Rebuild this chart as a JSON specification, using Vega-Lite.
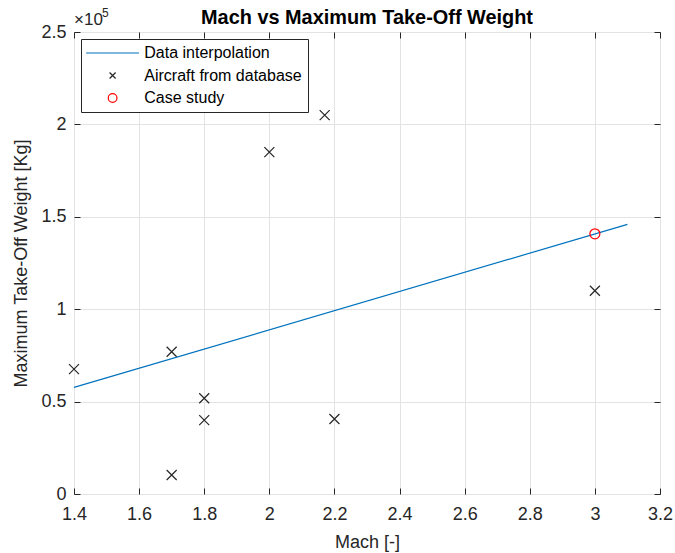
{
  "$schema": "https://vega.github.io/schema/vega-lite/v6.json",
  "width": 586,
  "height": 462,
  "autosize": {"type": "none"},
  "padding": {"left": 74, "top": 32, "right": 15, "bottom": 59},
  "background": "white",
  "title": {"text": "Mach vs Maximum Take-Off Weight", "fontSize": 19.9, "font": "Liberation Sans", "fontWeight": "bold", "color": "#000000", "offset": -21},
  "config": {
    "view": {"stroke": "#262626", "strokeWidth": 1},
    "font": "Liberation Sans",
    "axis": {
      "labelFont": "Liberation Sans", "labelFontSize": 18, "labelColor": "#262626", "labelFlush": false,
      "titleFont": "Liberation Sans", "titleFontSize": 18, "titleFontWeight": "normal", "titleColor": "#262626",
      "domainColor": "#262626", "tickColor": "#262626", "gridColor": "#e3e3e3", "gridWidth": 1
    },
    "legend": {
      "orient": "top-left", "offset": 7, "strokeColor": "#262626", "fillColor": "white", "padding": 6,
      "labelFont": "Liberation Sans", "labelFontSize": 16, "labelColor": "#000000", "rowPadding": 6.5, "labelLimit": 0,
      "symbolSize": 76, "symbolOffset": 17.6, "labelOffset": 23.7, "symbolStrokeWidth": 1.2
    }
  },
  "datasets": {
    "fit": [
      {"mach": 1.4, "mtow": 57700, "series": "Data interpolation"},
      {"mach": 3.1, "mtow": 145900, "series": "Data interpolation"}
    ],
    "pts": [
      {"mach": 1.4, "mtow": 67600, "series": "Aircraft from database"},
      {"mach": 1.7, "mtow": 77000, "series": "Aircraft from database"},
      {"mach": 1.7, "mtow": 10300, "series": "Aircraft from database"},
      {"mach": 1.8, "mtow": 51800, "series": "Aircraft from database"},
      {"mach": 1.8, "mtow": 40000, "series": "Aircraft from database"},
      {"mach": 2.0, "mtow": 185000, "series": "Aircraft from database"},
      {"mach": 2.17, "mtow": 205000, "series": "Aircraft from database"},
      {"mach": 2.2, "mtow": 40600, "series": "Aircraft from database"},
      {"mach": 3.0, "mtow": 110000, "series": "Aircraft from database"},
      {"mach": 3.0, "mtow": 140800, "series": "Case study"}
    ],
    "exp": [{"mach": 1.4, "mtow": 250000, "base": "×10", "power": "5"}]
  },
  "layer": [
    {
      "data": {"name": "fit"},
      "mark": {"type": "line", "strokeWidth": 1.2},
      "encoding": {
        "x": {"field": "mach", "type": "quantitative", "scale": {"domain": [1.4, 3.2], "nice": false, "zero": false},
              "axis": {"orient": "bottom", "values": [1.4,1.6,1.8,2,2.2,2.4,2.6,2.8,3,3.2], "format": "~g", "title": "Mach [-]", "tickSize": -6, "labelPadding": 17, "titlePadding": 10, "domain": false}},
        "y": {"field": "mtow", "type": "quantitative", "scale": {"domain": [0, 250000], "nice": false},
              "axis": {"orient": "left", "values": [0,50000,100000,150000,200000,250000], "labelExpr": "datum.value/100000", "title": "Maximum Take-Off Weight [Kg]", "tickSize": -6, "labelPadding": 14, "titlePadding": 10, "domain": false}},
        "color": {"field": "series", "type": "nominal",
                  "scale": {"domain": ["Data interpolation", "Aircraft from database", "Case study"], "range": ["#0072BD", "#262626", "#FF0000"]},
                  "legend": {"title": null, "orient": "top-left",
                             "encode": {"symbols": {"update": {"size": {"signal": "datum.label === 'Data interpolation' ? 2800 : datum.label === 'Case study' ? 76 : 36"}, "stroke": {"scale": "color", "field": "value"}}}}}}
      }
    },
    {
      "data": {"name": "pts"},
      "mark": {"type": "point", "filled": false, "strokeWidth": 1.2, "opacity": 1},
      "encoding": {
        "x": {"field": "mach", "type": "quantitative", "axis": {"orient": "top", "values": [1.4,1.6,1.8,2,2.2,2.4,2.6,2.8,3,3.2], "labels": false, "title": null, "tickSize": -6, "grid": false, "domain": false}},
        "y": {"field": "mtow", "type": "quantitative", "axis": {"orient": "right", "values": [0,50000,100000,150000,200000,250000], "labels": false, "title": null, "tickSize": -6, "grid": false, "domain": false}},
        "color": {"field": "series", "type": "nominal", "legend": {"title": null, "orient": "top-left",
                             "encode": {"symbols": {"update": {"size": {"signal": "datum.label === 'Data interpolation' ? 2800 : datum.label === 'Case study' ? 76 : 36"}, "stroke": {"scale": "color", "field": "value"}}}}}},
        "shape": {"field": "series", "type": "nominal",
                  "scale": {"domain": ["Data interpolation", "Aircraft from database", "Case study"], "range": ["stroke", "M-1,-1L1,1M-1,1L1,-1", "circle"]},
                  "legend": {"title": null, "orient": "top-left",
                             "encode": {"symbols": {"update": {"size": {"signal": "datum.label === 'Data interpolation' ? 2800 : datum.label === 'Case study' ? 76 : 36"}, "stroke": {"scale": "color", "field": "value"}}}}}},
        "size": {"value": 100}
      }
    },
    {
      "data": {"name": "exp"},
      "mark": {"type": "text", "align": "left", "baseline": "bottom", "dy": -3, "fontSize": 17, "font": "Liberation Sans", "color": "#262626"},
      "encoding": {
        "x": {"field": "mach", "type": "quantitative", "axis": null},
        "y": {"field": "mtow", "type": "quantitative", "axis": null},
        "text": {"field": "base"}
      }
    },
    {
      "data": {"name": "exp"},
      "mark": {"type": "text", "align": "left", "baseline": "bottom", "dx": 28, "dy": -12, "fontSize": 12, "font": "Liberation Sans", "color": "#262626"},
      "encoding": {
        "x": {"field": "mach", "type": "quantitative", "axis": null},
        "y": {"field": "mtow", "type": "quantitative", "axis": null},
        "text": {"field": "power"}
      }
    }
  ],
  "resolve": {"axis": {"x": "independent", "y": "independent"}}
}
